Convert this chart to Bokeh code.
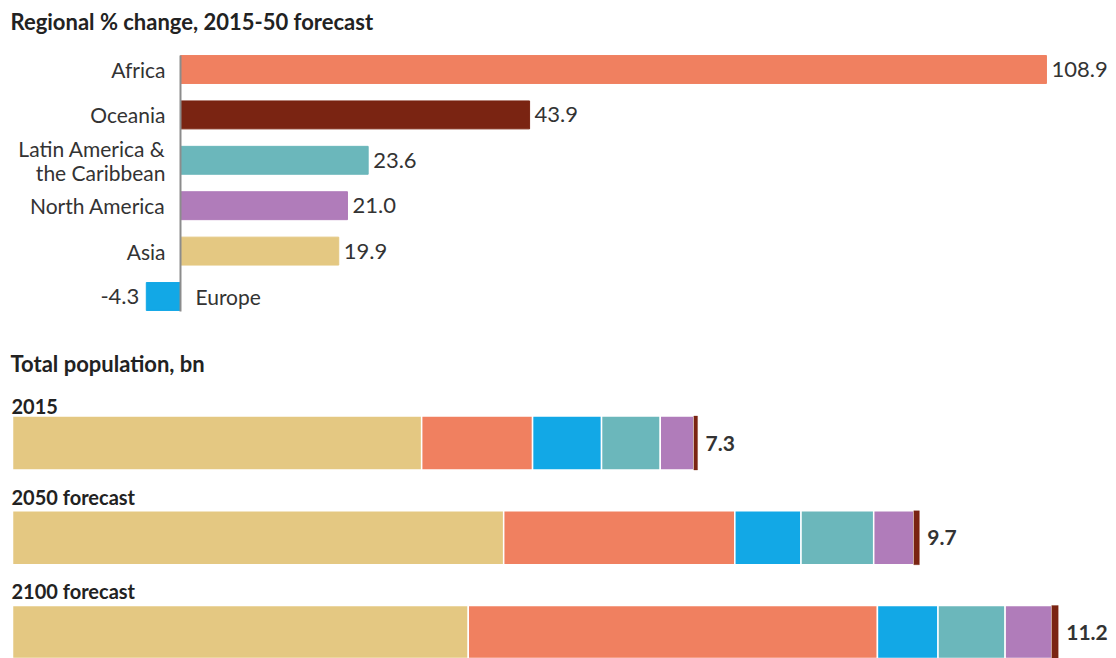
from bokeh.plotting import figure
from bokeh.layouts import column
from bokeh.models import ColumnDataSource, Range1d
from bokeh.core.properties import value
from bokeh.embed import file_html
from bokeh.resources import INLINE

# ---------------- data ----------------
regions = ["Africa", "Oceania", "Latin America &\nthe Caribbean", "North America", "Asia", "Europe"]
pct_change = [108.9, 43.9, 23.6, 21.0, 19.9, -4.3]
pct_labels = ["108.9", "43.9", "23.6", "21.0", "19.9", "-4.3"]
region_colors = ["#F08060", "#7A2412", "#6BB7BB", "#B07CBA", "#E4C882", "#12A8E6"]

years = ["2015", "2050 forecast", "2100 forecast"]
stack_regions = ["Asia", "Africa", "Europe", "LatAm", "NorthAmerica", "Oceania"]
asia = [4.39, 5.27, 4.89]
africa = [1.19, 2.48, 4.39]
europe = [0.74, 0.71, 0.65]
latam = [0.63, 0.78, 0.72]
north_america = [0.36, 0.43, 0.50]
oceania = [0.04, 0.06, 0.07]
totals = ["7.3", "9.7", "11.2"]
stack_colors = ["#E4C882", "#F08060", "#12A8E6", "#6BB7BB", "#B07CBA", "#7A2412"]

TITLE1 = "Regional % change, 2015-50 forecast"
TITLE2 = "Total population, bn"

FONT = "Lato"
W = 1116
H_TOP = 335
H_BOT = 658 - H_TOP

# ---------------- top chart ----------------
top = figure(width=W, height=H_TOP, output_backend="svg", toolbar_location=None,
             x_range=Range1d(-22.636, 117.71), y_range=Range1d(5.859, -1.520),
             min_border=0, outline_line_color=None)
top.axis.visible = False
top.grid.visible = False

idx = list(range(len(regions)))
pos = [v >= 0 for v in pct_change]
src = ColumnDataSource(dict(
    y=idx, v=pct_change, lab=pct_labels, reg=regions, col=region_colors,
    zero=[0] * len(idx),
    v_off=[5 if p else -7 for p in pos],
    v_align=["left" if p else "right" for p in pos],
    c_off=[-15 if p else 15 for p in pos],
    c_align=["right" if p else "left" for p in pos],
))
top.hbar(y="y", left="zero", right="v", height=0.615, color="col", source=src)
top.segment(x0=[0], y0=[-0.31], x1=[0], y1=[5.33], line_color="#8c8c8c", line_width=2)
top.text(x="v", y="y", text="lab", x_offset="v_off", text_align="v_align",
         text_baseline="middle", text_font=value(FONT), text_font_size="22px",
         text_color="#333333", source=src)
top.text(x="zero", y="y", text="reg", x_offset="c_off", text_align="c_align",
         text_baseline="middle", text_font=value(FONT), text_font_size="21px",
         text_color="#333333", text_line_height=0.98, source=src)
top.text(x=[-22.636], y=[-1.057], text=[TITLE1], x_offset=10, text_align="left",
         text_baseline="middle", text_font=value(FONT), text_font_size="22px",
         text_font_style="bold", text_color="#222222")

# ---------------- bottom chart ----------------
bot = figure(width=W, height=H_BOT, output_backend="svg", toolbar_location=None,
             x_range=Range1d(-0.1288, 11.845), y_range=Range1d(2.2744, -1.1346),
             min_border=0, outline_line_color=None)
bot.axis.visible = False
bot.grid.visible = False

BAR_H = 0.57
yidx = list(range(len(years)))
bsrc = ColumnDataSource(dict(
    y=yidx, Asia=asia, Africa=africa, Europe=europe, LatAm=latam,
    NorthAmerica=north_america, Oceania=oceania,
    total=[a + b + c + d + e + f for a, b, c, d, e, f in
           zip(asia, africa, europe, latam, north_america, oceania)],
    tlab=totals, year=years, zero=[0] * len(years),
    ytop=[i - BAR_H / 2 for i in yidx],
))
bot.hbar_stack(stack_regions, y="y", height=BAR_H, fill_color=stack_colors,
               line_color=["white"] * 5 + ["#7A2412"], line_width=[1.5] * 5 + [0.3],
               source=bsrc)
bot.text(x="total", y="y", text="tlab", x_offset=8, text_align="left",
         text_baseline="middle", text_font=value(FONT), text_font_size="21px",
         text_font_style="bold", text_color="#333333", source=bsrc)
bot.text(x="zero", y="ytop", text="year", x_offset=-1, y_offset=-2, text_align="left",
         text_baseline="bottom", text_font=value(FONT), text_font_size="20px",
         text_font_style="bold", text_color="#222222", source=bsrc)
bot.text(x=[-0.1288], y=[-0.839], text=[TITLE2], x_offset=10, text_align="left",
         text_baseline="middle", text_font=value(FONT), text_font_size="22px",
         text_font_style="bold", text_color="#222222")

layout = column(top, bot, spacing=0)
open("out.html", "w").write(file_html(layout, INLINE))
